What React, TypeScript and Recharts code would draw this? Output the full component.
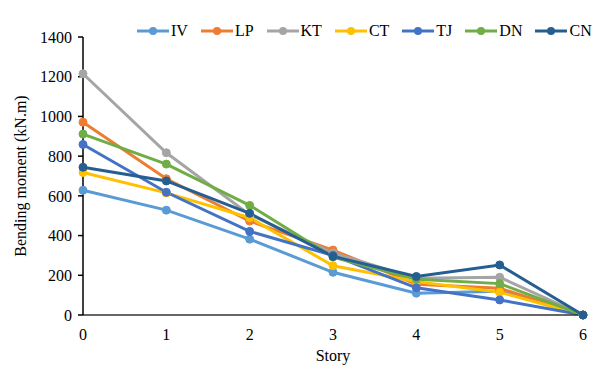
import React from "react";
import { LineChart, Line, XAxis, YAxis, Legend } from "recharts";

const stories = [0, 1, 2, 3, 4, 5, 6];
const IV = [628, 528, 382, 215, 110, 120, 0];
const LP = [971, 686, 473, 327, 155, 135, 0];
const KT = [1215, 817, 505, 312, 185, 190, 0];
const CT = [718, 615, 490, 248, 168, 115, 0];
const TJ = [859, 618, 421, 300, 137, 76, 0];
const DN = [911, 760, 552, 292, 180, 158, 0];
const CN = [744, 675, 512, 295, 194, 252, 0];
const yTicks = [0, 200, 400, 600, 800, 1000, 1200, 1400];

const seriesList = [
  { key: "IV", values: IV, color: "#5B9BD5" },
  { key: "LP", values: LP, color: "#ED7D31" },
  { key: "KT", values: KT, color: "#A5A5A5" },
  { key: "CT", values: CT, color: "#FFC000" },
  { key: "TJ", values: TJ, color: "#4472C4" },
  { key: "DN", values: DN, color: "#70AD47" },
  { key: "CN", values: CN, color: "#255E91" },
];

const data = stories.map((s, i) => {
  const row: any = { story: s };
  seriesList.forEach((se) => (row[se.key] = se.values[i]));
  return row;
});

const FONT = "'Liberation Serif', 'Times New Roman', serif";
const FS = 16;

const LegendContent = () => {
  return (
    <div style={{ display: "flex", fontFamily: FONT, fontSize: FS, color: "#000" }}>
      {seriesList.map((p) => (
        <div key={p.key} style={{ display: "flex", alignItems: "center", marginRight: 13 }}>
          <svg width={32} height={12} style={{ marginRight: 2 }}>
            <line x1={0} y1={6} x2={32} y2={6} stroke={p.color} strokeWidth={3} />
            <circle cx={16} cy={6} r={4} fill={p.color} />
          </svg>
          <span>{p.key}</span>
        </div>
      ))}
    </div>
  );
};

export default function App() {
  return (
    <div style={{ position: "absolute", left: 0, top: 0, background: "#fff" }}>
      <LineChart
        width={597}
        height={368}
        data={data}
        margin={{ top: 19, right: 14, bottom: 23, left: 0 }}
      >
        <XAxis
          dataKey="story"
          type="number"
          domain={[0, 6]}
          ticks={stories}
          height={30}
          tickLine={false}
          tickMargin={8}
          axisLine={{ stroke: "#333", strokeWidth: 1.5 }}
          tick={{ fill: "#000", fontFamily: FONT, fontSize: FS }}
          label={{
            value: "Story",
            position: "insideBottom",
            offset: -16,
            fill: "#000",
            fontFamily: FONT,
            fontSize: FS,
          }}
        />
        <YAxis
          type="number"
          domain={[0, 1400]}
          ticks={yTicks}
          width={83}
          tickSize={5}
          tickMargin={6}
          axisLine={{ stroke: "#000", strokeWidth: 1.5 }}
          tickLine={{ stroke: "#000", strokeWidth: 1.5 }}
          tick={{ fill: "#000", fontFamily: FONT, fontSize: FS }}
          label={{
            value: "Bending moment (kN.m)",
            angle: -90,
            position: "insideLeft",
            offset: 20,
            style: { textAnchor: "middle" },
            fill: "#000",
            fontFamily: FONT,
            fontSize: FS,
          }}
        />
        <Legend
          verticalAlign="top"
          align="left"
          content={<LegendContent />}
          wrapperStyle={{ top: 22, left: 137, width: 460 }}
        />
        {seriesList.map((se) => (
          <Line
            key={se.key}
            dataKey={se.key}
            name={se.key}
            stroke={se.color}
            strokeWidth={3}
            dot={{ r: 4, fill: se.color, stroke: se.color, strokeWidth: 1 }}
            isAnimationActive={false}
          />
        ))}
      </LineChart>
    </div>
  );
}
